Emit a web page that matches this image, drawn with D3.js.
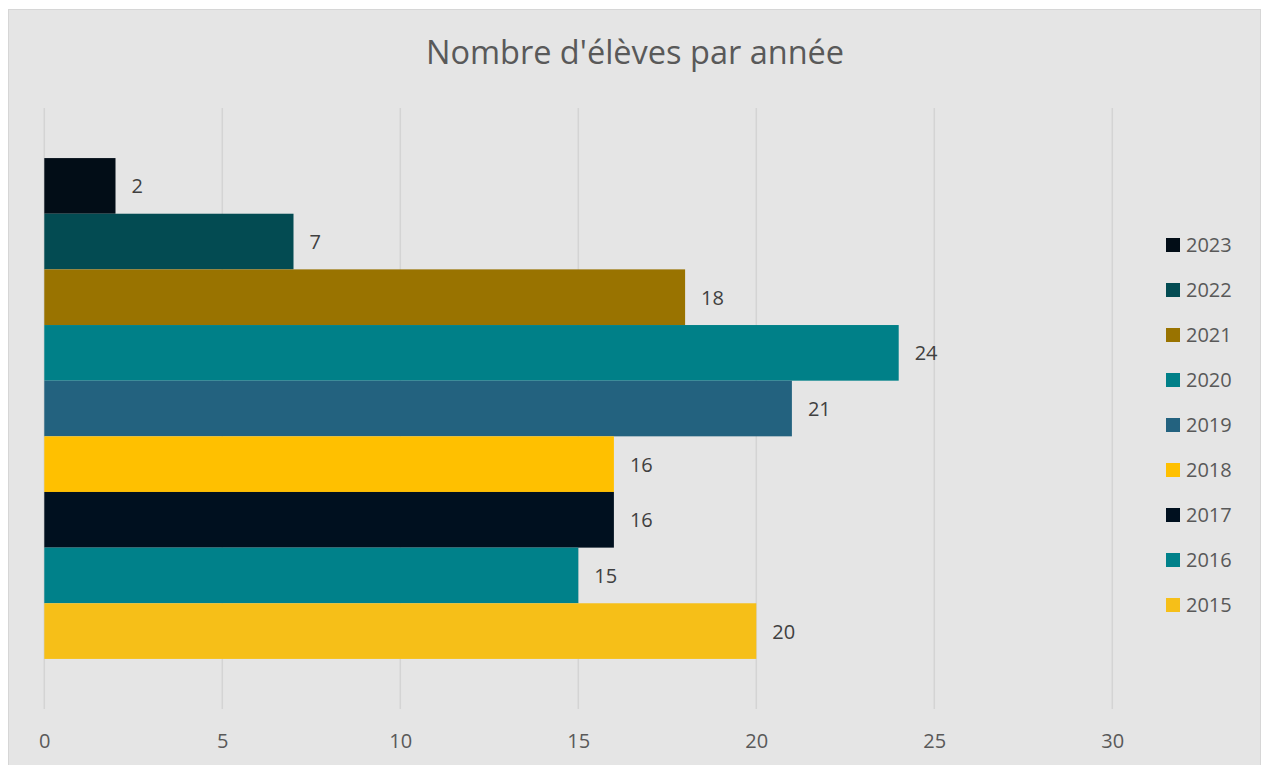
<!DOCTYPE html>
<html>
<head>
<meta charset="utf-8">
<script src="https://cdn.jsdelivr.net/npm/d3@7"></script>
<style>
  body { margin: 0; background: #ffffff; }
  svg { display: block; font-family: "Open Sans", "Noto Sans", sans-serif; }
</style>
</head>
<body>
<svg></svg>
<script>
// data, top to bottom as drawn
let years = ["2023", "2022", "2021", "2020", "2019", "2018", "2017", "2016", "2015"]
let counts = [2, 7, 18, 24, 21, 16, 16, 15, 20]
let colors = ["#020d17", "#034b52", "#997300", "#008088", "#23627f", "#ffc000", "#00101f", "#00818a", "#f6bf18"]
let xTicks = [0, 5, 10, 15, 20, 25, 30]
let title = "Nombre d'élèves par année"

let values = years.map((y, i) => ({ year: y, count: counts[i], color: colors[i] }))

// canvas
let width = 1262
let height = 765
let plotLeft = 44.3
let plotRight = 1112.3
let plotTop = 108
let plotBottom = 709

let svg = d3.select("svg")
  .attr("width", width)
  .attr("height", height)

// chart background and border
svg.append("rect")
   .attr("x", 8.5)
   .attr("y", 9.5)
   .attr("width", 1252)
   .attr("height", 770)
   .attr("fill", "#e5e5e5")
   .attr("stroke", "#d6d6d6")

let xScale = d3.scaleLinear()
               .domain([0, 30])
               .range([plotLeft, plotRight])

let yScale = d3.scaleBand()
               .domain(years)
               .range([plotTop, plotBottom])
               .paddingInner(0)
               .paddingOuter(0.9)

// gridlines
svg.append("g")
   .selectAll("line")
   .data(xTicks)
   .enter()
   .append("line")
   .attr("x1", d => xScale(d))
   .attr("x2", d => xScale(d))
   .attr("y1", plotTop)
   .attr("y2", plotBottom)
   .attr("stroke", "#d4d4d4")
   .attr("stroke-width", 1.5)

// x axis labels (no line, just the tick text)
let xAxis = d3.axisBottom(xScale)
              .tickValues(xTicks)
              .tickSize(0)
              .tickPadding(0)
              .tickFormat(d3.format("d"))

let axisG = svg.append("g")
   .attr("id", "x-axis")
   .attr("transform", "translate(0," + plotBottom + ")")
   .call(xAxis)
axisG.attr("font-family", null).attr("font-size", null)
axisG.select(".domain").remove()
axisG.selectAll("text")
     .attr("y", 39)
     .attr("dy", 0)
     .attr("fill", "#595959")
     .style("font-family", "'Open Sans', 'Noto Sans', sans-serif")
     .style("font-size", "20px")

// bars
svg.append("g")
   .selectAll("rect")
   .data(values)
   .enter()
   .append("rect")
   .attr("x", xScale(0))
   .attr("y", d => yScale(d.year))
   .attr("width", d => xScale(d.count) - xScale(0))
   .attr("height", yScale.bandwidth())
   .attr("fill", d => d.color)

// value labels
svg.append("g")
   .selectAll("text")
   .data(values)
   .enter()
   .append("text")
   .attr("x", d => xScale(d.count) + 16)
   .attr("y", d => yScale(d.year) + yScale.bandwidth() / 2 + 7.5)
   .attr("fill", "#404040")
   .style("font-size", "20px")
   .text(d => d.count)

// title
svg.append("text")
   .attr("x", 635)
   .attr("y", 64)
   .attr("text-anchor", "middle")
   .attr("fill", "#595959")
   .style("font-size", "32.5px")
   .text(title)

// legend
let legend = svg.append("g").attr("id", "legend")
let legendItems = legend.selectAll("g")
   .data(values)
   .enter()
   .append("g")
   .attr("transform", (d, i) => "translate(1166," + (238 + i * 45) + ")")

legendItems.append("rect")
   .attr("width", 14)
   .attr("height", 14)
   .attr("fill", d => d.color)

legendItems.append("text")
   .attr("x", 20)
   .attr("y", 14)
   .attr("fill", "#595959")
   .style("font-size", "20px")
   .text(d => d.year)
</script>
</body>
</html>
